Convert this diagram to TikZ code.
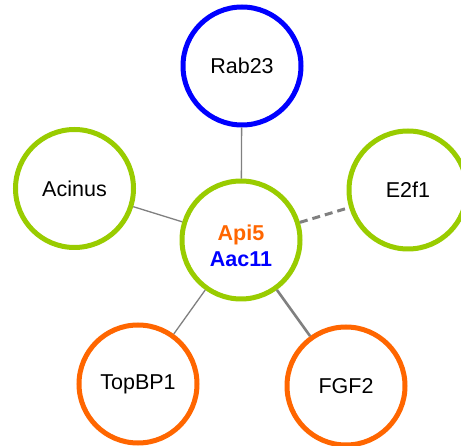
\documentclass[tikz,border=0pt]{standalone}
\usepackage{fontspec}
\setmainfont{Liberation Sans}
\definecolor{lime}{HTML}{99CC00}
\definecolor{blu}{HTML}{0000FF}
\definecolor{orng}{HTML}{FF6600}
\definecolor{edgegray}{HTML}{808080}
\begin{document}
\begin{tikzpicture}[x=1pt,y=-1pt,
  protein/.style={circle,draw,line width=5pt,minimum size=118pt,inner sep=0pt,
    fill=white,font=\fontsize{21.5}{27}\selectfont,align=center},
  link/.style={draw=edgegray,line width=1.3pt},
  strong/.style={draw=edgegray,line width=2.6pt},
  maybe/.style={draw=edgegray,line width=3pt,dash pattern=on 8pt off 5pt}]
\useasboundingbox (0,0) rectangle (461,446);
\fill[white] (0,0) rectangle (461,446);
\node[protein,draw=lime] (c) at (241,240) {\strut\\[-18pt]\textcolor{orng}{\bfseries Api5}\\[-1pt]\textcolor{blu}{\bfseries Aac11}};
\node[protein,draw=blu] (r) at (242,66) {Rab23};
\node[protein,draw=lime] (a) at (74.5,188.5) {Acinus};
\node[protein,draw=lime] (e) at (408,190) {E2f1};
\node[protein,draw=orng] (t) at (138,384) {TopBP1};
\node[protein,draw=orng] (f) at (346,386) {FGF2};
\draw[link] (c) -- (r);
\draw[link] (c) -- (a);
\draw[link] (c) -- (t);
\draw[strong] (c) -- (f);
\draw[maybe] (c) -- (e);
\end{tikzpicture}
\end{document}
